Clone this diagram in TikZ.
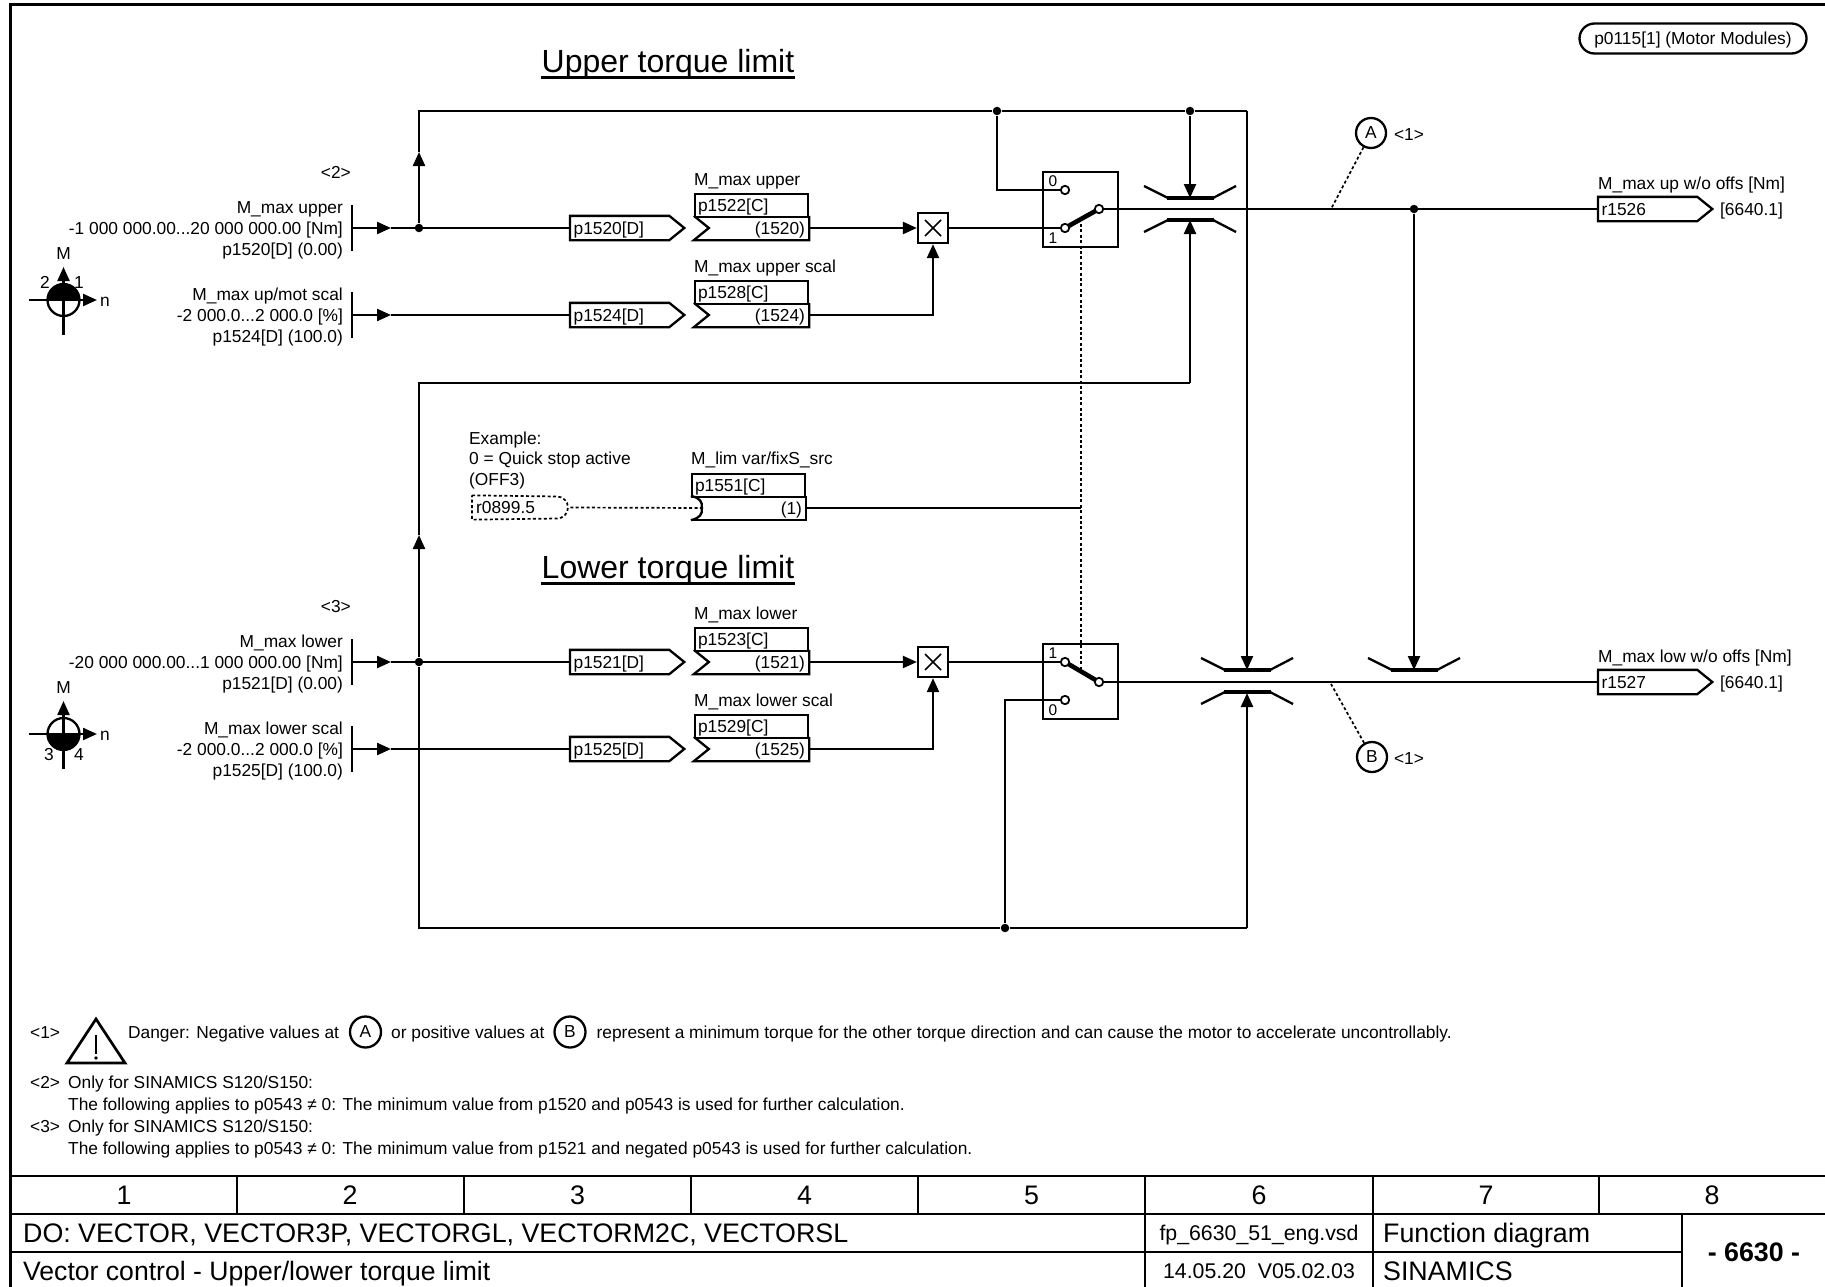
\documentclass[tikz,border=0pt]{standalone}
\usepackage{fontspec}
\setmainfont{Liberation Sans}
\usetikzlibrary{arrows.meta, calc}
\newcommand{\flab}{\fontsize{17.35}{20}\selectfont}
\newcommand{\fbig}{\fontsize{26.8}{30}\selectfont}
\newcommand{\fmed}{\fontsize{21.3}{24}\selectfont}
\newcommand{\fttl}{\fontsize{32}{36}\selectfont}
\tikzset{
  every picture/.style={x=1pt, y=-1pt, line width=2.3pt},
  wire/.style={line width=2.3pt},
  sigarrow/.style={-{Triangle[length=14pt, width=12pt]}, line width=2.3pt},
  dotline/.style={line width=1.7pt, dash pattern=on 3pt off 2.4pt},
  lever/.style={line width=4.6pt},
  rule/.style={line width=2.7pt},
  lbl/.style={font=\flab, inner sep=0pt, text height=12.4pt, text depth=0pt},
  lblr/.style={lbl, anchor=east},
  lbll/.style={lbl, anchor=west},
  conn/.style={lbl, anchor=west, minimum width=112pt, minimum height=22pt, inner xsep=2.5pt, text width=107pt, align=left},
  parhead/.style={conn, anchor=center, draw, minimum width=113pt, minimum height=23pt, inner xsep=3pt, text width=107pt},
  parbody/.style={conn, anchor=center, minimum width=113pt, inner xsep=3pt, text width=107pt, align=right},
  mulbox/.style={draw, minimum size=30pt, inner sep=0pt},
  swbox/.style={draw, minimum size=75pt, inner sep=0pt},
  contact/.style={draw, circle, fill=white, minimum size=8.4pt, inner sep=0pt, line width=1.8pt},
  dot/.style={circle, fill=black, minimum size=8.5pt, inner sep=0pt},
  ring/.style={draw, circle, minimum size=30pt, inner sep=0pt, font=\flab},
  swnum/.style={font=\fontsize{15.5}{18}\selectfont, inner sep=0pt},
  cell/.style={font=\fbig, inner sep=0pt, text height=19pt, text depth=0pt},
  celll/.style={cell, anchor=west},
  small/.style={font=\fmed, inner sep=0pt, text height=15.3pt, text depth=0pt},
  heading/.style={font=\fttl, inner sep=0pt, text height=23pt, text depth=0pt},
}
\begin{document}
\begin{tikzpicture}
  \useasboundingbox (0,0) rectangle (1825,1287);
  \clip (0,0) rectangle (1825,1287);
  % frame and title block
  \draw[line width=3pt] (10,1290) -- (10,4.5) -- (1830,4.5);
  \draw[rule] (10,1176) -- (1830,1176) (10,1214) -- (1830,1214) (10,1252) -- (1682,1252);
  \draw[rule] (1145,1176) -- (1145,1290) (1373,1176) -- (1373,1290) (1682,1214) -- (1682,1290);
  \foreach \x in {237,464,691,918,1599} \draw[rule] (\x,1176) -- (\x,1214);
  \foreach \i/\x in {1/124,2/350,3/577.5,4/804.5,5/1031.5,6/1259,7/1486,8/1712}
    \node[cell] (col\i) at (\x,1195) {\i};
  \node[celll] (dotype) at (22,1233) {DO: VECTOR, VECTOR3P, VECTORGL, VECTORM2C, VECTORSL};
  \node[celll, font=\fontsize{26.6}{30}\selectfont] (fdname) at (22,1271) {Vector control - Upper/lower torque limit};
  \node[small] (fpfile) at (1259,1233) {fp\_6630\_51\_eng.vsd};
  \node[small] (fpdate) at (1259,1271) {14.05.20\ \ V05.02.03};
  \node[celll] (fdkind) at (1382,1233) {Function diagram};
  \node[celll] (fdprod) at (1382,1271) {SINAMICS};
  \node[cell, font=\fbig\bfseries] (fdnum) at (1754,1252) {- 6630 -};

  \node[lbl, draw, minimum width=227pt, minimum height=30pt, rounded corners=15pt] (mods) at (1693,38.5) {p0115[1] (Motor Modules)};
  \node[heading] (upper) at (668,61) {Upper torque limit};
  \node[heading] (lower) at (668,567) {Lower torque limit};
  \foreach \t in {upper,lower} \draw[line width=2.4pt] ($(\t.south west)+(0,4)$) -- ($(\t.south east)+(0,4)$);
  \node[lblr] (n2) at (352,172) {<2>};
  \node[lblr] (n3) at (352,606) {<3>};

  % parameter rows
  \foreach \nm/\y/\parm/\lname/\rng/\dflt/\pname in {
    1520/228/1522/M\_max upper/{-1 000 000.00...20 000 000.00 [Nm]}/0.00/M\_max upper,
    1524/315/1528/{M\_max up/mot scal}/{-2 000.0...2 000.0 [\%]}/100.0/M\_max upper scal,
    1521/662/1523/M\_max lower/{-20 000 000.00...1 000 000.00 [Nm]}/0.00/M\_max lower,
    1525/749/1529/M\_max lower scal/{-2 000.0...2 000.0 [\%]}/100.0/M\_max lower scal} {
    \node[lblr] (lt\nm) at (344,\y-21) {\lname};
    \node[lblr] (lm\nm) at (344,\y) {\rng};
    \node[lblr] (lb\nm) at (344,\y+21) {p\nm[D] (\dflt)};
    \coordinate (b\nm) at (352,\y);
    \coordinate (t\nm) at (391,\y);
    \draw[wire] (352,\y-23) -- (352,\y+23);
    \node[conn] (c\nm) at (570,\y) {p\nm[D]};
    \draw[wire, line join=miter] (c\nm.north west) -- ($(c\nm.north east)+(-15,0)$) -- (c\nm.east) -- ($(c\nm.south east)+(-15,0)$) -- (c\nm.south west) -- cycle;
    \draw[sigarrow] (b\nm) -- (t\nm);
    \draw[wire] (t\nm) -- (c\nm);
    \node[lbll] (pn\parm) at (693,\y-48.5) {\pname};
    \node[parhead] (p\parm) at (751.5,\y-22.5) {p\parm[C]};
    \node[parbody] (v\nm) at (751.5,\y) {(\nm)};
    \draw[wire] (v\nm.north east) -- (v\nm.south east) -- (v\nm.south west) -- ($(v\nm.west)+(15,0)$) -- (v\nm.north west);
  }

  % multipliers and switches
  \foreach \nm/\y in {1/228,2/662} {
    \node[mulbox] (mul\nm) at (933,\y) {};
    \draw[line width=1.6pt] (925,\y-8) -- (941,\y+8) (925,\y+8) -- (941,\y-8);
  }
  \node[swbox] (sw1) at (1080.5,209.5) {};
  \node[swbox] (sw2) at (1080.5,681.5) {};
  \node[swnum] (s1n0) at (1053,181) {0};
  \node[swnum] (s1n1) at (1053,238) {1};
  \node[swnum] (s2n1) at (1053,653) {1};
  \node[swnum] (s2n0) at (1053,710) {0};
  \draw[dotline] (1081,224) -- (1081,670);
  \foreach \nm/\ya/\yb/\yc in {1/190/228/209,2/700/662/682} {
    \draw[lever] (1065,\yb) -- (1099,\yc);
    \node[contact] (s\nm a) at (1065,\ya) {};
    \node[contact] (s\nm b) at (1065,\yb) {};
    \node[contact] (s\nm c) at (1099,\yc) {};
  }

  % limiters
  \foreach \x/\y/\s in {1190/198/1,1190/220/-1,1247/670/1,1247/692/-1,1414/670/1} {
    \draw[wire] (\x-46,\y-12*\s) -- (\x-22,\y) (\x+23,\y) -- (\x+46,\y-12*\s);
    \draw[line width=3.4pt] (\x-23,\y) -- (\x+24,\y);
  }
  \coordinate (lim1t) at (1190,198);
  \coordinate (lim1b) at (1190,220);
  \coordinate (lim2t) at (1247,670);
  \coordinate (lim2b) at (1247,693);
  \coordinate (lim3t) at (1414,670);

  % junctions and routing
  \node[dot] (j1) at (419,228) {};
  \node[dot] (j2) at (419,662) {};
  \node[dot] (j3) at (997,111) {};
  \node[dot] (j4) at (1190,111) {};
  \node[dot] (j5) at (1414,209) {};
  \node[dot] (j6) at (1005,928) {};
  \coordinate (a1) at (419,152);
  \coordinate (a2) at (419,535);
  \coordinate (c1) at (419,111);
  \coordinate (c2) at (1247,111);
  \coordinate (c3) at (419,383);
  \coordinate (c4) at (1190,383);
  \coordinate (c5) at (419,928);
  \coordinate (c6) at (1247,928);
  \draw[sigarrow] (j1) -- (a1);
  \draw[wire, line join=miter] (a1) -- (c1) -- (j3) -- (j4) -- (c2);
  \draw[sigarrow] (c2) -- (lim2t);
  \draw[sigarrow] (j4) -- (lim1t);
  \draw[wire] (j3) |- (s1a);
  \draw[sigarrow] (j2) -- (a2);
  \draw[wire] (a2) -- (c3) -- (c4);
  \draw[sigarrow] (c4) -- (lim1b);
  \draw[wire] (j2) -- (c5) -- (j6) -- (c6);
  \draw[sigarrow] (c6) -- (lim2b);
  \draw[wire] (j6) |- (s2a);
  \draw[sigarrow] (j5) -- (lim3t);
  \draw[sigarrow] (v1520) -- (mul1);
  \draw[sigarrow] (v1524) -| (mul1);
  \draw[sigarrow] (v1521) -- (mul2);
  \draw[sigarrow] (v1525) -| (mul2);
  \draw[wire] (mul1) -- (s1b);
  \draw[wire] (mul2) -- (s2b);

  % outputs
  \node[lbll] (on1) at (1597,183) {M\_max up w/o offs [Nm]};
  \node[lbll] (on2) at (1597,656) {M\_max low w/o offs [Nm]};
  \foreach \nm/\y/\from in {1526/209/s1c,1527/682/s2c} {
    \node[conn] (r\nm) at (1598,\y) {r\nm};
    \draw[wire, line join=miter] (r\nm.north west) -- ($(r\nm.north east)+(-15,0)$) -- (r\nm.east) -- ($(r\nm.south east)+(-15,0)$) -- (r\nm.south west) -- cycle;
    \draw[wire] (\from) -- (r\nm);
    \node[lbll] (x\nm) at (1719,\y) {[6640.1]};
  }

  % monitoring points
  \node[ring] (ptA) at (1371,133) {A};
  \node[ring] (ptB) at (1372,757) {B};
  \node[lbl] (nA) at (1409,134) {<1>};
  \node[lbl] (nB) at (1409,758) {<1>};
  \coordinate (wa) at (1331,209);
  \coordinate (wb) at (1331,684);
  \draw[dotline] (ptA) -- (wa);
  \draw[dotline] (ptB) -- (wb);

  % quick stop source
  \node[lbll] (ex1) at (468,438) {Example:};
  \node[lbll] (ex2) at (468,458.5) {0 = Quick stop active};
  \node[lbll] (ex3) at (468,479) {(OFF3)};
  \node[lbll] (pn1551) at (690,458.5) {M\_lim var/fixS\_src};
  \node[conn, minimum width=96pt, text width=90pt] (r0899) at (472,507.5) {r0899.5};
  \draw[dotline] (r0899.north west) -- (557,496.5) arc[start angle=90, end angle=-90, radius=11pt] -- (r0899.south west) -- cycle;
  \node[parhead] (p1551) at (748.5,485.5) {p1551[C]};
  \node[parbody] (v1551) at (748.5,508) {(1)};
  \draw[wire] (v1551.north east) -- (v1551.south east) -- (v1551.south west);
  \draw[wire] (v1551.south west) .. controls ($(v1551.south west)+(9,-2)$) and ($(v1551.west)+(12,6)$) .. ($(v1551.west)+(11,0)$) .. controls ($(v1551.west)+(12,-6)$) and ($(v1551.north west)+(9,2)$) .. (v1551.north west);
  \coordinate (q1) at (702,508);
  \coordinate (q2) at (1081,508);
  \draw[dotline] (r0899.east) -- (q1);
  \draw[wire] (v1551) -- (q2);

  % motor quadrant symbols
  \foreach \nm/\y/\sa/\sb in {1/300/180/0,2/734/180/360} {
    \node[draw, circle, minimum size=32pt, inner sep=0pt] (mot\nm) at (63.5,\y) {};
    \fill ($(mot\nm)+(-16,0)$) arc[start angle=\sa, end angle=\sb, radius=16pt] -- cycle;
    \coordinate (mx\nm) at (97,\y);
    \coordinate (mxb\nm) at (29,\y);
    \coordinate (my\nm) at (63.5,\y-33);
    \coordinate (myb\nm) at (63.5,\y+35);
    \draw[sigarrow] (mxb\nm) -- (mx\nm);
    \draw[sigarrow] (myb\nm) -- (my\nm);
    \node[lbl] (mM\nm) at (63.5,\y-47) {M};
    \node[lbl] (mn\nm) at (105,\y) {n};
  }
  \node[lbl] (q2n) at (45,282) {2};
  \node[lbl] (q1n) at (79,282) {1};
  \node[lbl] (q3n) at (49,754) {3};
  \node[lbl] (q4n) at (79,754) {4};

  % notes
  \node[lbll] (fn1) at (29,1032) {<1>};
  \draw[line width=2.7pt, line join=miter] (96,1019) -- (125,1063) -- (67,1063) -- cycle;
  \draw[wire] (96,1035) -- (96,1054);
  \fill (96,1058) circle[radius=1.8pt];
  \node[lbll] (fna) at (127,1032) {Danger: Negative values at};
  \node[ring, minimum size=31pt] (fA) at (365.5,1032) {A};
  \node[lbll] (fnb) at (390,1032) {or positive values at};
  \node[ring, minimum size=31pt] (fB) at (570,1032) {B};
  \node[lbll] (fnc) at (595.5,1032) {represent a minimum torque for the other torque direction and can cause the motor to accelerate uncontrollably.};
  \foreach \nm/\y/\val in {2/1082/p1520 and p0543,3/1126/p1521 and negated p0543} {
    \node[lbll] (fn\nm) at (29,\y) {<\nm>};
    \node[lbll] (fo\nm) at (67,\y) {Only for SINAMICS S120/S150:};
    \node[lbll] (fv\nm) at (67,\y+22) {The following applies to p0543 ≠ 0: The minimum value from \val{} is used for further calculation.};
  }
\end{tikzpicture}
\end{document}
